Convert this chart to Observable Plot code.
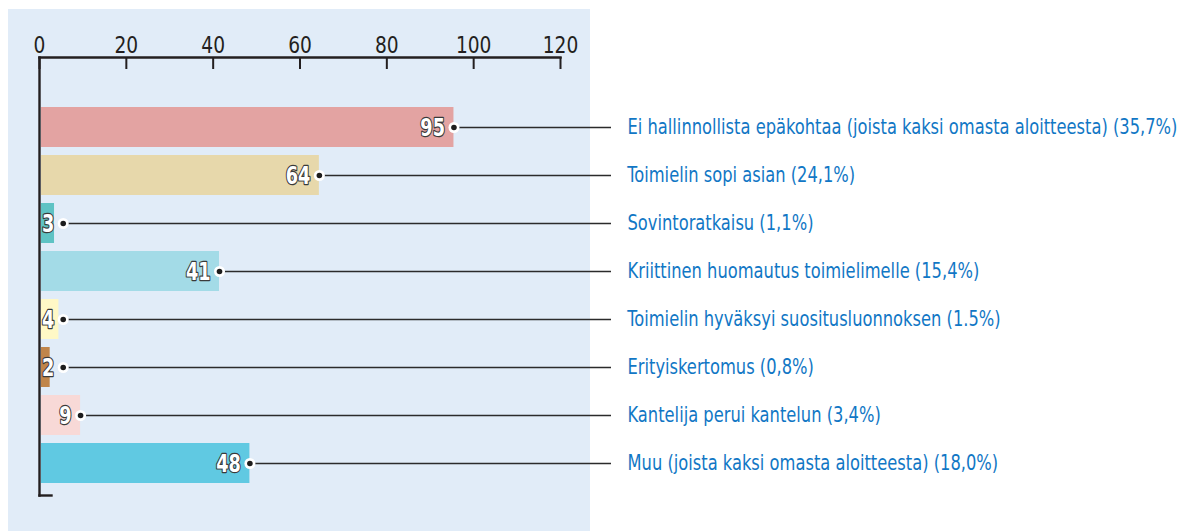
<!DOCTYPE html>
<html>
<head>
<meta charset="utf-8">
<script src="https://cdn.jsdelivr.net/npm/d3@7"></script>
<script src="https://cdn.jsdelivr.net/npm/@observablehq/plot@0.6"></script>
<style>
  html, body { margin: 0; padding: 0; background: #ffffff; }
  #wrap { position: relative; width: 1189px; height: 531px; overflow: hidden; }
  #panel { position: absolute; left: 8px; top: 9px; width: 582px; height: 522px; background: #e1ecf8; }
  #chart { position: absolute; left: 0; top: 0; }
  svg { font-family: "DejaVu Sans Condensed", "Liberation Sans Narrow", sans-serif; }
</style>
</head>
<body>
<div id="wrap"><div id="panel"></div><div id="chart"></div></div>
<script>
const categories = [
  "Ei hallinnollista epäkohtaa (joista kaksi omasta aloitteesta) (35,7%)",
  "Toimielin sopi asian (24,1%)",
  "Sovintoratkaisu (1,1%)",
  "Kriittinen huomautus toimielimelle (15,4%)",
  "Toimielin hyväksyi suositusluonnoksen (1.5%)",
  "Erityiskertomus (0,8%)",
  "Kantelija perui kantelun (3,4%)",
  "Muu (joista kaksi omasta aloitteesta) (18,0%)"
];
const values = [95, 64, 3, 41, 4, 2, 9, 48];
const colors = ["#e3a3a2", "#e7d8ab", "#5fc3c4", "#a3dbe7", "#fff8c6", "#c0854a", "#f8d9d7", "#60c9e2"];
const xTicks = [0, 20, 40, 60, 80, 100, 120];

const data = categories.map((c, i) => ({cat: c, value: values[i], color: colors[i]}));

const W = 1189, H = 531;
const mL = 39, mR = 629, mT = 57, mB = 36;
const xDomain = [0, 120];
// labels of very short bars need room: the marker is pushed to the right of the label
const minLabelRoom = 5;
const labelX = d => Math.max(d.value, minLabelRoom);

const chart = Plot.plot({
  width: W,
  height: H,
  marginLeft: mL,
  marginRight: mR,
  marginTop: mT,
  marginBottom: mB,
  style: {background: "transparent", fontFamily: "'DejaVu Sans Condensed', 'Liberation Sans Narrow', sans-serif"},
  x: {domain: xDomain, ticks: xTicks, axis: null},
  y: {domain: categories, range: [103, 487], paddingInner: 1/6, paddingOuter: 1/12, axis: null},
  color: {type: "identity"},
  marks: [
    // bars
    Plot.barX(data, {x: "value", y: "cat", fill: "color", dx: 2}),
    // leader lines from bar end to the labels
    Plot.ruleY(data, {y: "cat", x1: labelX, x2: () => xDomain[1], stroke: "#2b2b2b", strokeWidth: 1.6, insetRight: -51}),
    // end dots
    Plot.dot(data, {x: labelX, y: "cat", r: 5.5, fill: "white", stroke: "none", dx: 2}),
    Plot.dot(data, {x: labelX, y: "cat", r: 2.8, fill: "#1d1d1d", stroke: "none", dx: 2}),
    // value labels
    Plot.text(data, {x: labelX, y: "cat", text: d => String(d.value), textAnchor: "end", dx: -7, dy: 0.5,
      fill: "white", stroke: "#3a3a3a", strokeWidth: 2.4, paintOrder: "stroke", strokeLinejoin: "round",
      fontSize: 24, fontWeight: "bold"}),
    // category labels
    Plot.text(data, {y: "cat", text: "cat", frameAnchor: "right", dx: 67, textAnchor: "start",
      fill: "#1177c5", fontSize: 21}),
    // axis: top line, left line, bottom foot
    Plot.frame({anchor: "top", stroke: "#231f20", strokeWidth: 2.4}),
    Plot.frame({anchor: "left", stroke: "#231f20", strokeWidth: 2.4}),
    Plot.frame({anchor: "bottom", stroke: "#231f20", strokeWidth: 2.4, insetRight: 509}),
    // ticks going down
    Plot.ruleX(xTicks, {x: d => d, stroke: "#231f20", strokeWidth: 2, insetBottom: H - mT - mB - 12}),
    // tick labels
    Plot.text(xTicks, {x: d => d, text: d => String(d), frameAnchor: "top", lineAnchor: "bottom", dy: -4.5,
      fill: "#231f20", fontSize: 23})
  ]
});
document.getElementById("chart").appendChild(chart);

// Emulate the condensed typeface of the original by narrowing the glyphs horizontally,
// scaling each text about its own anchor point (taken from its bounding box)
const groups = chart.querySelectorAll('g[aria-label="text"]');
function squeeze(g, ratio, anchor) {
  g.querySelectorAll("text").forEach(t => {
    const b = t.getBBox();
    const ax = anchor === "start" ? b.x : anchor === "end" ? b.x + b.width : b.x + b.width / 2;
    if (!isFinite(ax)) return;
    const base = t.getAttribute("transform") || "";
    t.setAttribute("transform",
      `${base} translate(${ax.toFixed(2)},0) scale(${ratio.toFixed(4)},1) translate(${(-ax).toFixed(2)},0)`.trim());
  });
}
if (groups.length >= 3) {
  squeeze(groups[0], 0.82, "end");
  const first = groups[1].querySelector("text");
  const w0 = first ? first.getComputedTextLength() : 0;
  const r = w0 > 0 ? 550 / w0 : 0.88;
  squeeze(groups[1], r, "start");
  squeeze(groups[2], 0.9, "middle");
}
</script>
</body>
</html>
